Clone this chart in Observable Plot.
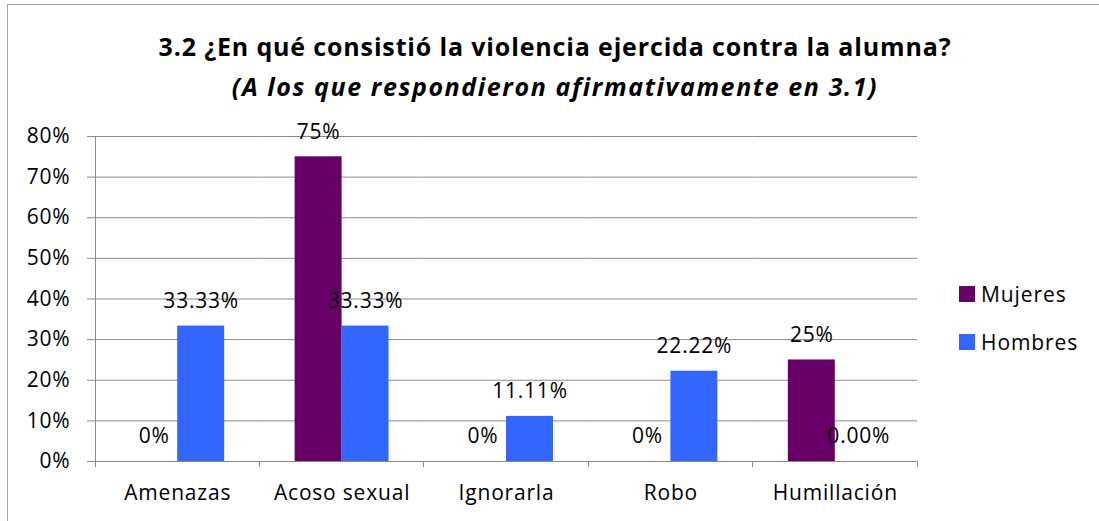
<!DOCTYPE html>
<html><head><meta charset="utf-8">
<script src="https://cdn.jsdelivr.net/npm/d3@7"></script>
<script src="https://cdn.jsdelivr.net/npm/@observablehq/plot@0.6"></script>
<style>
body{margin:0;background:#fff;font-family:"Open Sans",Lato,sans-serif;}
#wrap{position:relative;width:1099px;height:521px;overflow:hidden;background:#fff;}
#border{position:absolute;left:7px;top:4px;width:1120px;height:540px;border:1px solid #a6a6a6;box-sizing:border-box;}
#title{position:absolute;left:0;width:1110px;top:26px;text-align:center;font-weight:bold;font-size:25px;line-height:40px;color:#000;letter-spacing:0.85px;}
#title .sub{font-style:italic;letter-spacing:1.6px;}
#plot{position:absolute;left:0;top:110px;}
#legend{position:absolute;left:959px;top:280px;font-size:21px;letter-spacing:0.9px;color:#000;}
#legend div{height:48px;display:flex;align-items:flex-start;}
#legend span.sw{display:inline-block;width:16px;height:16px;margin-top:6px;margin-right:6px;}
#plot svg text{letter-spacing:0.8px;}
</style></head>
<body>
<div id="wrap">
<div id="border"></div>
<div id="title">3.2 ¿En qué consistió la violencia ejercida contra la alumna?<br><span class="sub">(A los que respondieron afirmativamente en 3.1)</span></div>
<div id="plot"></div>
<div id="legend"></div>
</div>
<script>
const categories = ["Amenazas", "Acoso sexual", "Ignorarla", "Robo", "Humillación"];
const series = ["Mujeres", "Hombres"];
const mujeres = [0, 75, 0, 0, 25];
const hombres = [33.33, 33.33, 11.11, 22.22, 0];
const labelDecimals = [0, 2];
const colors = ["#660066", "#3366FF"];
const yTicks = [0, 10, 20, 30, 40, 50, 60, 70, 80];

const data = [];
categories.forEach((c, i) => {
  data.push({category: c, series: series[0], value: mujeres[i]});
  data.push({category: c, series: series[1], value: hombres[i]});
});
const fmt = d => d.value.toFixed(labelDecimals[series.indexOf(d.series)]) + "%";
const gridColor = "#888888";

const plot = Plot.plot({
  width: 1099,
  height: 411,
  marginTop: 26,
  marginBottom: 60,
  marginLeft: 95,
  marginRight: 182,
  style: {fontFamily: "'Open Sans', Lato, sans-serif", fontSize: "21px", color: "#000", background: "transparent"},
  fx: {domain: categories, padding: 0, round: false, label: null},
  x: {domain: series, paddingInner: 0, paddingOuter: 0.75, round: false, axis: null},
  y: {domain: [0, 80], label: null},
  color: {domain: series, range: colors},
  marks: [
    Plot.gridY(yTicks, {stroke: gridColor, strokeOpacity: 1, strokeWidth: 1}),
    Plot.axisY(yTicks, {tickSize: 8, tickPadding: 17, tickFormat: d => d + "%", stroke: gridColor, strokeOpacity: 1, fontSize: 21, label: null}),
    Plot.barY(data, {fx: "category", x: "series", y: "value", fill: "series"}),
    Plot.ruleY([0], {stroke: gridColor}),
    Plot.text(data, {fx: "category", x: "series", y: "value", text: fmt, dy: -25, fontSize: 21, fill: "#000"}),
    Plot.axisFx({tickSize: 0, tickPadding: 24, fontSize: 21, label: null, anchor: "bottom"})
  ]
});

// axis line and category boundary ticks, positioned from the library's scales
const fx = plot.scale("fx"), y = plot.scale("y");
const svg = d3.select(plot);
const edges = categories.map(c => fx.apply(c)).concat([fx.apply(categories[categories.length - 1]) + fx.bandwidth]);
const y0 = y.apply(0), yTop = y.apply(80);
svg.append("line").attr("x1", edges[0]).attr("x2", edges[0]).attr("y1", yTop).attr("y2", y0 + 6)
  .attr("stroke", gridColor).attr("shape-rendering", "crispEdges");
svg.selectAll("line.bt").data(edges.slice(1)).join("line").attr("class", "bt")
  .attr("x1", d => d).attr("x2", d => d).attr("y1", y0).attr("y2", y0 + 6)
  .attr("stroke", gridColor).attr("shape-rendering", "crispEdges");

document.getElementById("plot").appendChild(plot);

const legend = d3.select("#legend");
series.forEach((s, i) => {
  const row = legend.append("div");
  row.append("span").attr("class", "sw").style("background", colors[i]);
  row.append("span").text(s);
});
</script>
</body></html>
